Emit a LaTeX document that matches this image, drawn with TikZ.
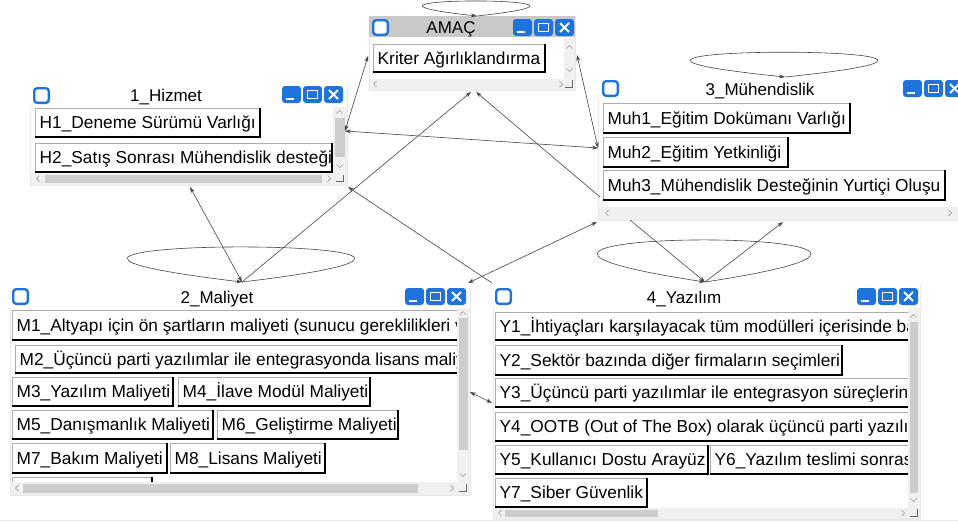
\documentclass[tikz,border=0pt]{standalone}
\usepackage{fontspec}
\setmainfont{Liberation Sans}
\usetikzlibrary{arrows.meta,calc}
\definecolor{winblue}{RGB}{30,116,218}
\definecolor{trk}{RGB}{240,240,240}
\definecolor{thumbc}{RGB}{205,205,205}
\definecolor{tbar}{RGB}{201,201,201}
\definecolor{wedge}{RGB}{232,232,232}
\definecolor{lnk}{RGB}{70,70,70}
\definecolor{glyph}{RGB}{160,160,160}
\tikzset{
 elbox/.style={draw=gray!65, fill=white, line width=0.7pt, inner sep=0pt, anchor=north west},
 elshade/.style={draw=black, line width=1.5pt},
 eltext/.style={font=\fontsize{17.3}{20}\selectfont, inner sep=0pt},
 ttl/.style={font=\fontsize{17}{20}\selectfont, inner sep=0pt, anchor=base},
 link/.style={draw=lnk, line width=0.6pt},
 tipe/.style={-{Stealth[length=6pt,width=4pt]}},
 tipb/.style={{Stealth[length=6pt,width=4pt]}-{Stealth[length=6pt,width=4pt]}},
 gl/.style={draw=glyph, line width=0.7pt},
}
\newcommand\winframe[5]{%
 \draw[wedge, fill=white, line width=0.5pt] (#1,#2) rectangle (#3,#4);
 \fill[#5] (#1+0.3,#2+0.3) rectangle (#3-0.3,#2+21);}
\newcommand\wicon[2]{%
 \draw[winblue, line width=2.4pt, fill=white, rounded corners=3pt] (#1+1.2,#2+1.2) rectangle (#1+15.8,#2+15.8);}
\newcommand\wbtns[2]{%
 \fill[winblue, rounded corners=3pt] (#1,#2) rectangle (#1+19,#2+17);
 \draw[white, line width=1.8pt] (#1+4,#2+13) -- (#1+12,#2+13);
 \fill[winblue, rounded corners=3pt] (#1+21,#2) rectangle (#1+40,#2+17);
 \draw[white, line width=1.5pt] (#1+25.5,#2+4.5) rectangle (#1+35.5,#2+12.5);
 \fill[winblue, rounded corners=3pt] (#1+42,#2) rectangle (#1+61,#2+17);
 \draw[white, line width=1.8pt] (#1+47,#2+4) -- (#1+56,#2+13) (#1+47,#2+13) -- (#1+56,#2+4);}
\newcommand\chup[2]{\draw[gl] (#1-3,#2+1.5) -- (#1,#2-1.5) -- (#1+3,#2+1.5);}
\newcommand\chdn[2]{\draw[gl] (#1-3,#2-1.5) -- (#1,#2+1.5) -- (#1+3,#2-1.5);}
\newcommand\chlf[2]{\draw[gl] (#1+1.5,#2-3) -- (#1-1.5,#2) -- (#1+1.5,#2+3);}
\newcommand\chrt[2]{\draw[gl] (#1-1.5,#2-3) -- (#1+1.5,#2) -- (#1-1.5,#2+3);}
\newcommand\grip[2]{\draw[draw=gray!80!black, line width=0.7pt] (#1-4,#2+3) -- (#1+3,#2+3) -- (#1+3,#2-4);}
\newcommand\elbtn[6]{%
 \node[elbox, minimum width=#4pt, minimum height=#5pt] (#1) at (#2,#3) {};
 \draw[elshade] ([xshift=-0.75pt,yshift=-0.3pt]#1.north east) -- ([xshift=-0.75pt,yshift=0.75pt]#1.south east) -- ([xshift=0.3pt,yshift=0.75pt]#1.south west);
 \node[eltext, anchor=base west] (#1t) at (#2+4.5,#3+#5/2+6.3) {#6};}
\begin{document}
\begin{tikzpicture}[x=1pt,y=-1pt]
\useasboundingbox (0,0) rectangle (958,523);
\begin{scope}
\clip (0,0) rectangle (958,523);
\fill[white] (0,0) rectangle (958,523);
\draw[draw=wedge, line width=0.8pt] (0,520.5) -- (958,520.5);

% ---------- AMAC ----------
\winframe{369}{16}{575}{90}{tbar}
\wicon{372}{19}
\wbtns{513}{19}
\node[ttl] (amTitle) at (451,33) {AMAÇ};
\begin{scope}
\clip (369,37) rectangle (564,79);
\elbtn{kr}{373}{44}{172}{28}{Kriter Ağırlıklandırma}
\end{scope}
\fill[trk] (564,37.5) rectangle (574.5,79);
\chup{569.5}{47}\chdn{569.5}{70}
\fill[trk] (369.5,79) rectangle (574.5,89.5);
\chlf{375}{84}\chrt{561}{84}\grip{569}{84}

% ---------- 1_Hizmet ----------
\winframe{30}{85}{347}{185}{white}
\wicon{33}{87}
\wbtns{282}{86}
\node[ttl] (hzTitle) at (166,101) {1\_Hizmet};
\begin{scope}
\clip (30,106) rectangle (333,173);
\elbtn{h1}{35}{108}{225}{29}{H1\_Deneme Sürümü Varlığı}
\elbtn{h2}{35}{143}{297}{29}{H2\_Satış Sonrası Mühendislik desteği}
\end{scope}
\fill[trk] (333,107) rectangle (346.5,173);
\fill[thumbc] (334.5,118) rectangle (345,157);
\chup{339.5}{112}\chdn{339.5}{166}
\fill[trk] (30.5,173) rectangle (346.5,184.5);
\fill[thumbc] (45,174.5) rectangle (322,183);
\chlf{38}{178.5}\chrt{329}{178.5}\grip{340}{178.5}

% ---------- 3_Muhendislik ----------
\winframe{598}{78}{966}{220}{white}
\wicon{602}{80}
\wbtns{903}{80}
\node[ttl] (muTitle) at (760,95) {3\_Mühendislik};
\begin{scope}
\clip (598,99) rectangle (958,207);
\elbtn{mu1}{603}{103}{247}{30}{Muh1\_Eğitim Dokümanı Varlığı}
\elbtn{mu2}{603}{137}{185}{30}{Muh2\_Eğitim Yetkinliği}
\elbtn{mu3}{603}{170}{342}{30}{Muh3\_Mühendislik Desteğinin Yurtiçi Oluşu}
\end{scope}
\fill[trk] (598.5,207) rectangle (958,219.5);
\chlf{607}{213}\chrt{950}{213}

% ---------- 2_Maliyet ----------
\winframe{10}{285}{470}{495}{white}
\wicon{12}{288}
\wbtns{405}{288}
\node[ttl] (mlTitle) at (217,303) {2\_Maliyet};
\begin{scope}
\clip (10,307) rectangle (457,482);
\elbtn{m1}{12}{310}{470}{30}{M1\_Altyapı için ön şartların maliyeti (sunucu gereklilikleri v}
\elbtn{m2}{15}{345}{470}{28}{M2\_Üçüncü parti yazılımlar ile entegrasyonda lisans maliy}
\elbtn{m3}{12}{377}{161}{29}{M3\_Yazılım Maliyeti}
\elbtn{m4}{178}{377}{192}{29}{M4\_İlave Modül Maliyeti}
\elbtn{m5}{12}{410}{201}{29}{M5\_Danışmanlık Maliyeti}
\elbtn{m6}{217}{410}{181}{29}{M6\_Geliştirme Maliyeti}
\elbtn{m7}{12}{443}{155}{30}{M7\_Bakım Maliyeti}
\elbtn{m8}{170}{443}{155}{30}{M8\_Lisans Maliyeti}
\elbtn{m9}{12}{477}{140}{29}{}
\end{scope}
\fill[trk] (457,307.5) rectangle (469.5,482);
\fill[thumbc] (458.5,318) rectangle (468,450);
\chup{463}{313}\chdn{463}{475}
\fill[trk] (10.5,482) rectangle (469.5,494.5);
\fill[thumbc] (23,483.5) rectangle (418,492.5);
\chlf{17}{488}\chrt{452}{488}\grip{463}{488}

% ---------- 4_Yazilim ----------
\winframe{493}{285}{920}{519}{white}
\wicon{495}{288}
\wbtns{857}{288}
\node[ttl] (yzTitle) at (684,303) {4\_Yazılım};
\begin{scope}
\clip (493,307) rectangle (908,508);
\elbtn{y1}{495}{312}{450}{28}{Y1\_İhtiyaçları karşılayacak tüm modülleri içerisinde ba}
\elbtn{y2}{495}{345}{347}{30}{Y2\_Sektör bazında diğer firmaların seçimleri}
\elbtn{y3}{495}{378}{450}{29}{Y3\_Üçüncü parti yazılımlar ile entegrasyon süreçlerini}
\elbtn{y4}{495}{412}{450}{29}{Y4\_OOTB (Out of The Box) olarak üçüncü parti yazılım}
\elbtn{y5}{495}{445}{213}{29}{Y5\_Kullanıcı Dostu Arayüz}
\elbtn{y6}{710}{445}{250}{29}{Y6\_Yazılım teslimi sonras}
\elbtn{y7}{495}{478}{152}{29}{Y7\_Siber Güvenlik}
\end{scope}
\fill[trk] (908,307.5) rectangle (919.5,508);
\fill[thumbc] (909.5,322) rectangle (918,493);
\chup{913.5}{316}\chdn{913.5}{500}
\fill[trk] (493.5,508) rectangle (919.5,518.5);
\fill[thumbc] (505,509.5) rectangle (658,517);
\chlf{500}{513}\chrt{903}{513}\grip{914}{513}

% ---------- connector end points ----------
\coordinate (hizR) at (345,131);
\coordinate (amL) at (368,56);
\coordinate (muhL) at (598,148);
\coordinate (amR) at (577,55);
\coordinate (malT) at (242,282);
\coordinate (amB1) at (471,92);
\coordinate (amB2) at (476,92);
\coordinate (muhBL) at (600,197);
\coordinate (hizB) at (190,187);
\coordinate (yazTL) at (492,283);
\coordinate (hizBR) at (348,187);
\coordinate (muhB1) at (597,222);
\coordinate (malTR) at (468,283);
\coordinate (malR) at (470,392);
\coordinate (yazL) at (492,403);
\coordinate (muhB2) at (630,220);
\coordinate (yazT) at (705,282);
\coordinate (muhB3) at (783,222);
\coordinate (amT) at (477,16);
\coordinate (muhT) at (785,77);

% ---------- connectors ----------
\draw[link, tipb] (hizR) -- (amL);
\draw[link, tipb] (hizR) -- (muhL);
\draw[link, tipb] (amR) -- (muhL);
\draw[link, tipe] (malT) -- (amB1);
\draw[link, tipe] (muhBL) -- (amB2);
\draw[link, tipb] (malT) -- (hizB);
\draw[link, tipe] (yazTL) -- (hizBR);
\draw[link, tipb] (muhB1) -- (malTR);
\draw[link, tipb] (malR) -- (yazL);
\draw[link, tipe] (muhB2) -- (yazT);
\draw[link, tipe] (yazT) -- (muhB3);

% ---------- self loops ----------
\draw[link, tipe] (malT) .. controls ($(malT)+(391,-46.7)$) and ($(malT)+(-391,-46.7)$) .. (malT);
\draw[link, tipe] (yazT) .. controls ($(yazT)+(367,-56)$) and ($(yazT)+(-367,-56)$) .. (yazT);
\draw[link, tipe] (muhT) .. controls ($(muhT)+(322,-33)$) and ($(muhT)+(-322,-33)$) .. (muhT);
\draw[link, tipe] (amT) .. controls ($(amT)+(183,-20)$) and ($(amT)+(-183,-20)$) .. (amT);
\end{scope}
\end{tikzpicture}
\end{document}
